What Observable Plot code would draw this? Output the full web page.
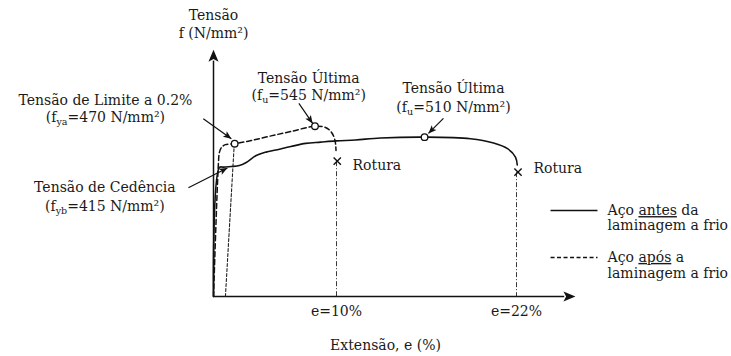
<!DOCTYPE html>
<html><head><meta charset="utf-8">
<script src="https://cdn.jsdelivr.net/npm/d3@7"></script>
<script src="https://cdn.jsdelivr.net/npm/@observablehq/plot@0.6"></script>
<style>body{margin:0;background:#fff}</style>
</head><body><div id="chart"></div>
<script>
// ---------- data (strain in %, stress in N/mm²) ----------
const strainTicks = [10, 22];
const strainTickLabels = ["e=10%", "e=22%"];

const beforeStrain = [0, 0.48, 0.81, 1.45, 2.10, 2.66, 3.47, 4.27, 5.08, 6.29, 7.5, 8.71, 10, 11.27, 12.93, 15.87, 18.93, 20.47, 21.4, 21.93, 22.05];
const beforeStress = [0, 413, 414, 416, 419, 429, 451, 462, 469, 480, 490, 494, 498, 501, 507, 510, 505, 491, 473, 446, 421];

const afterStrain = [0, 0.40, 0.48, 0.65, 0.97, 1.72, 3.06, 4.68, 6.29, 8.25, 9.11, 9.6, 9.88, 9.96];
const afterStress = [0, 426, 461, 477, 486, 489, 499, 514, 528, 545, 541, 525, 499, 467];

const offsetStrain = [0.97, 1.69];
const offsetStress = [0, 490];

const markedStrain = [1.72, 8.25, 15.87];
const markedStress = [489, 545, 510];

const ruptureStrain = [10.05, 22.1];
const ruptureStress = [433, 398];
const ruptureLabels = ["Rotura", "Rotura"];
const ruptureLabelStrain = [11.07, 23.13];
const ruptureLabelStress = [419, 410];

const noteLabels = ["Tensão de Limite a 0.2%", "(f_{ya}=470 N/mm²)", "Tensão Última", "(f_{u}=545 N/mm²)",
  "Tensão Última", "(f_{u}=510 N/mm²)", "Tensão de Cedência", "(f_{yb}=415 N/mm²)"];
const noteStrain = [-8.79, -8.79, 7.74, 7.74, 17.8, 17.8, -8.83, -8.83];
const noteStress = [627, 573, 698, 643, 666, 605, 349, 288];

const pointerFromStrain = [-0.83, 6.94, 17.13, -2.04];
const pointerFromStress = [569, 618, 570, 348];
const pointerToStrain = [1.45, 8.06, 16.13, 1.13];
const pointerToStress = [505, 554, 522, 411];

const axisTitles = ["Tensão", "f (N/mm²)", "Extensão, e (%)"];
const axisTitleStrain = [0, 0, 13.27];
const axisTitleStress = [899, 842, -157];
const axisEndStrain = 25.93;
const axisEndStress = 790;

const legendLabels = ["Aço <u>antes</u> da", "laminagem a frio", "Aço <u>após</u> a", "laminagem a frio"];
const legendLabelStress = [275, 227, 125, 75];
const legendKeyStress = [275, 125];
const legendKeyStrain = [24.27, 27.4];
const legendTextStrain = 28.07;

// ---------- scales ----------
const xDomain = [0, 10, 22], xRange = [213, 336, 516];
const yDomain = [0, 545], yRange = [296, 125.7];
const sx = d3.scaleLinear(xDomain, xRange), sy = d3.scaleLinear(yDomain, yRange);

const before = beforeStrain.map((x, i) => ({x, y: beforeStress[i]}));
const after = afterStrain.map((x, i) => ({x, y: afterStress[i]}));
const offset = offsetStrain.map((x, i) => ({x, y: offsetStress[i]}));
const marked = markedStrain.map((x, i) => ({x, y: markedStress[i]}));
const rupture = ruptureStrain.map((x, i) => ({x, y: ruptureStress[i], label: ruptureLabels[i], lx: ruptureLabelStrain[i], ly: ruptureLabelStress[i]}));
const notes = noteLabels.map((t, i) => ({t, x: noteStrain[i], y: noteStress[i]}));
const pointers = pointerFromStrain.map((x1, i) => {
  const x2 = pointerToStrain[i], y1 = pointerFromStress[i], y2 = pointerToStress[i];
  const a = Math.atan2(sx(x2) - sx(x1), -(sy(y2) - sy(y1))) * 180 / Math.PI;
  return {x1, y1, x2, y2, a};
});
const titles = axisTitles.map((t, i) => ({t, x: axisTitleStrain[i], y: axisTitleStress[i]}));
const legendText = legendLabels.map((t, i) => ({t, y: legendLabelStress[i]}));

const arrowHead = {draw(ctx, size) {
  const r = Math.sqrt(size / Math.PI);
  ctx.moveTo(0, 0); ctx.lineTo(-0.42 * r, r); ctx.lineTo(0, 0.78 * r); ctx.lineTo(0.42 * r, r); ctx.closePath();
}};

const FONT = 14;
const chart = Plot.plot({
  width: 731, height: 356,
  x: {type: "linear", domain: xDomain, range: xRange, axis: null},
  y: {type: "linear", domain: yDomain, range: yRange, axis: null},
  style: {fontFamily: "'DejaVu Serif', serif", fontSize: "14px", color: "#1a1a1a", background: "#fff"},
  marks: [
    // axes
    Plot.link([0], {x1: 0, y1: 0, x2: 0, y2: axisEndStress - 35, stroke: "#111", strokeWidth: 1.5}),
    Plot.link([0], {x1: 0, y1: 0, x2: axisEndStrain - 0.75, y2: 0, stroke: "#111", strokeWidth: 1.5}),
    Plot.dot([0], {x: 0, y: axisEndStress, symbol: arrowHead, r: 12, fill: "#111", stroke: "none"}),
    Plot.dot([0], {x: axisEndStrain, y: 0, symbol: arrowHead, r: 12, rotate: 90, fill: "#111", stroke: "none"}),
    // rupture dash-dot lines
    Plot.link(rupture, {x1: d => Math.round(d.x), y1: "y", x2: d => Math.round(d.x), y2: 0, stroke: "#222", strokeWidth: 0.9, strokeDasharray: "5,2,1,2"}),
    // 0.2% offset line
    Plot.line(offset, {x: "x", y: "y", stroke: "#222", strokeWidth: 1.1, strokeDasharray: "3,2"}),
    // curves
    Plot.line(before, {x: "x", y: "y", stroke: "#111", strokeWidth: 1.6, curve: "catmull-rom"}),
    Plot.line(after, {x: "x", y: "y", stroke: "#111", strokeWidth: 1.5, strokeDasharray: "5,3", curve: "catmull-rom"}),
    // markers
    Plot.dot(marked, {x: "x", y: "y", r: 3.3, fill: "#fff", stroke: "#111", strokeWidth: 1.3}),
    Plot.dot(rupture, {x: "x", y: "y", symbol: "times", r: 3.4, stroke: "#111", strokeWidth: 1.4}),
    Plot.text(rupture, {x: "lx", y: "ly", text: "label", textAnchor: "start", fontSize: FONT, fill: "#1a1a1a"}),
    // pointers
    Plot.link(pointers, {x1: "x1", y1: "y1", x2: "x2", y2: "y2", stroke: "#111", strokeWidth: 1.2}),
    Plot.dot(pointers, {x: "x2", y: "y2", rotate: "a", symbol: arrowHead, r: 8, fill: "#111", stroke: "none"}),
    // annotations
    Plot.text(notes, {x: "x", y: "y", text: "t", fontSize: FONT, fill: "#1a1a1a"}),
    Plot.text(titles, {x: "x", y: "y", text: "t", fontSize: FONT, fill: "#1a1a1a"}),
    Plot.text(strainTicks, {x: d => d, y: -48, text: (d, i) => strainTickLabels[i], fontSize: FONT, fill: "#1a1a1a"}),
    // legend
    Plot.link([legendKeyStress[0]], {x1: legendKeyStrain[0], x2: legendKeyStrain[1], y1: d => d, y2: d => d, stroke: "#111", strokeWidth: 1.6}),
    Plot.link([legendKeyStress[1]], {x1: legendKeyStrain[0], x2: legendKeyStrain[1], y1: d => d, y2: d => d, stroke: "#111", strokeWidth: 1.5, strokeDasharray: "4,2.5"}),
    Plot.text(legendText, {x: legendTextStrain, y: "y", text: "t", textAnchor: "start", fontSize: FONT, fill: "#1a1a1a"})
  ]
});

// rich text: subscripts f_{..} and <u>underline</u>
chart.querySelectorAll("text").forEach(el => {
  const s = el.textContent;
  if (!/_\{|<u>/.test(s)) return;
  el.textContent = "";
  const parts = s.split(/(_\{[^}]*\}|<u>[^<]*<\/u>)/).filter(p => p !== "");
  const NS = "http://www.w3.org/2000/svg";
  let shifted = false;
  parts.forEach(p => {
    const t = document.createElementNS(NS, "tspan");
    if (p.startsWith("_{")) {
      t.textContent = p.slice(2, -1);
      t.setAttribute("font-size", "0.68em");
      t.setAttribute("dy", "0.3em");
      shifted = true;
    } else if (p.startsWith("<u>")) {
      t.textContent = p.slice(3, -4);
      t.setAttribute("text-decoration", "underline");
      t.style.textDecoration = "underline";
      if (shifted) { t.setAttribute("dy", "-0.2em"); shifted = false; }
    } else {
      t.textContent = p;
      if (shifted) { t.setAttribute("dy", "-0.204em"); shifted = false; }
    }
    el.appendChild(t);
  });
});
document.getElementById("chart").appendChild(chart);
</script>
</body></html>
